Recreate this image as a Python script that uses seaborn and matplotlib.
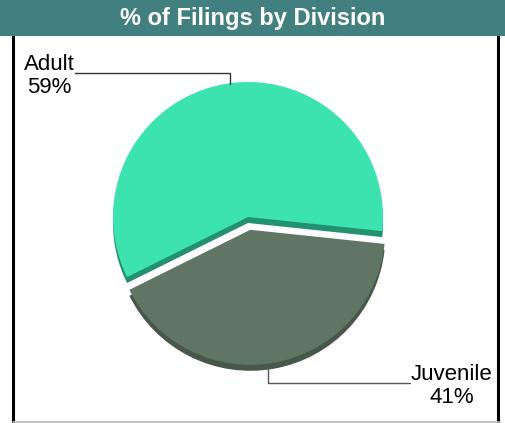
import numpy as np
import pandas as pd
import seaborn as sns
import matplotlib.pyplot as plt
from matplotlib.patches import Rectangle
from matplotlib.lines import Line2D

######################
####### data #########
######################
divisions = ['Adult', 'Juvenile']
shares = [59, 41]
title = '% of Filings by Division'

top_colors = sns.color_palette(['#3CE3AE', '#617565'])
side_colors = sns.color_palette(['#23916F', '#47584A'])

#####################
######## plot #######
#####################
sns.set_theme(style='white')
plt.rcParams['font.family'] = ['Liberation Sans', 'DejaVu Sans']

W, H = 506, 423
fig = plt.figure(figsize=(W / 100, H / 100), dpi=100)
ax = fig.add_axes([0, 0, 1, 1])

## pie geometry in pixel units (y up)
cx, cy, r = 248, H - 217, 135
depth = 6
explode = [0, 13]   # matplotlib explode is in data units here
start = -6

## side (depth) layer first, then top layer
ax.pie(shares, colors=side_colors, startangle=start, explode=explode,
       center=(cx, cy - depth), radius=r, counterclock=True,
       wedgeprops=dict(linewidth=0))
ax.pie(shares, colors=top_colors, startangle=start, explode=explode,
       center=(cx, cy), radius=r, counterclock=True,
       wedgeprops=dict(linewidth=0))

ax.set_xlim(0, W)
ax.set_ylim(0, H)
ax.set_aspect('auto')
ax.axis('off')

## title bar
fig.patches.append(Rectangle((0, 1 - 36 / H), 1, 36 / H, transform=fig.transFigure,
                             facecolor='#41807E', edgecolor='none', zorder=0))
fig.text(253 / W, 1 - 19 / H, title, color='white', fontsize=17, fontweight='bold',
         ha='center', va='center')

## frame lines
ax.add_line(Line2D([13, 13], [0, H - 36], color='black', lw=2.2))
ax.add_line(Line2D([498, 498], [0, H - 36], color='black', lw=2.2))
ax.add_line(Line2D([13, 500], [1, 1], color='#BBBBBB', lw=1.2))

## labels with leader lines (va='baseline' -> last line's baseline)
ax.text(49, H - 93, f'{divisions[0]}\n{shares[0]}%', fontsize=16, ha='center',
        va='baseline', linespacing=1.15, color='black')
ax.add_line(Line2D([75, 230, 230], [H - 73, H - 73, H - 84], color='#333333', lw=1))

ax.text(452, H - 403, f'{divisions[1]}\n{shares[1]}%', fontsize=16, ha='center',
        va='baseline', linespacing=1.15, color='black')
ax.add_line(Line2D([268, 268, 410], [H - 366, H - 383, H - 383], color='#555555', lw=1))

fig.savefig('out.png', dpi=100)
